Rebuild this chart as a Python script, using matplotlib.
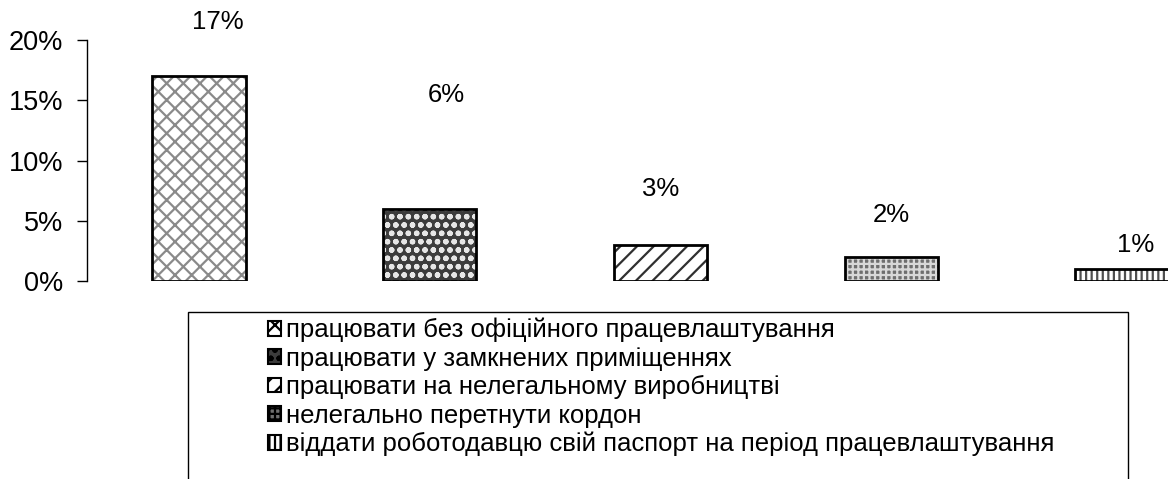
import matplotlib.pyplot as plt
import matplotlib.patches as mpatches
from matplotlib.ticker import PercentFormatter

plt.rcParams['font.family'] = ['Liberation Sans', 'DejaVu Sans']
plt.rcParams['hatch.linewidth'] = 1.6

categories = [
    "працювати без офіційного працевлаштування",
    "працювати у замкнених приміщеннях",
    "працювати на нелегальному виробництві",
    "нелегально перетнути кордон",
    "віддати роботодавцю свій паспорт на період працевлаштування",
]
values = [0.17, 0.06, 0.03, 0.02, 0.01]
value_labels = ["17%", "6%", "3%", "2%", "1%"]

# where Excel put the data labels (data units)
label_y = [0.215, 0.154, 0.076, 0.055, 0.030]
label_dx = [0.08, 0.07, 0.0, 0.0, 0.06]

faces = ["white", "#3c3c3c", "white", "#6e6e6e", "white"]
hatch_cols = ["#8a8a8a", "#e6e6e6", "#303030", "#d8d8d8", "#505050"]
hatches = ["xx", "oo", "//", "+++", "|||"]

fig = plt.figure(figsize=(11.68, 4.79), dpi=100)
ax = fig.add_axes([0.0745, 0.4134, 0.988, 0.503])

x = range(len(values))
ax.bar(x, values, width=0.405, color=faces, edgecolor=hatch_cols,
       hatch=hatches, linewidth=0)
ax.bar(x, values, width=0.405, fill=False, edgecolor="black", linewidth=2)

for i, (lab, yy, dx) in enumerate(zip(value_labels, label_y, label_dx)):
    ax.text(i + dx, yy, lab, ha="center", va="center", fontsize=18.5,
            clip_on=False)

ax.set_xlim(-0.485, 4.515)
ax.set_ylim(0, 0.20)
ax.set_yticks([0, 0.05, 0.10, 0.15, 0.20])
ax.yaxis.set_major_formatter(PercentFormatter(1.0, decimals=0))
ax.tick_params(axis="y", direction="out", length=7, width=1,
               labelsize=19.5, pad=10)
ax.set_xticks([])
for s in ["top", "right", "bottom"]:
    ax.spines[s].set_visible(False)
ax.spines["left"].set_linewidth(1)

handles = [
    mpatches.Patch(facecolor=f, edgecolor="black", hatch=h, linewidth=1.5)
    for f, h in zip(faces, hatches)
]
leg = fig.legend(handles, categories, loc="upper center",
                 bbox_to_anchor=(0.566, 0.363), frameon=False,
                 fontsize=18.5, handlelength=0.5, handleheight=0.5,
                 handletextpad=0.2, labelspacing=0.17, borderpad=0)

frame = mpatches.Rectangle((188 / 1168, -0.05), (1128 - 188) / 1168,
                           0.05 + (479 - 312) / 479, transform=fig.transFigure,
                           fill=False, edgecolor="black", linewidth=1)
fig.patches.append(frame)

fig.savefig("out.png", dpi=100)
